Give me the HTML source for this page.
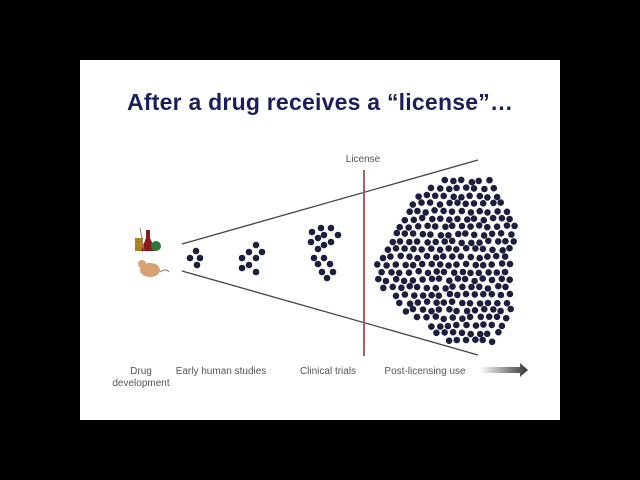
<!DOCTYPE html>
<html><head><style>
body{margin:0;background:#000;width:640px;height:480px;overflow:hidden}
svg{display:block}
text{font-family:"Liberation Sans",sans-serif}
</style></head><body>
<svg id="s" width="640" height="480" xmlns="http://www.w3.org/2000/svg">
<rect width="640" height="480" fill="#000"/>
<rect x="80" y="60" width="480" height="360" fill="#fff"/>
<text x="320" y="110" text-anchor="middle" font-size="23" font-weight="bold" fill="#1a1f5c" textLength="386">After a drug receives a “license”…</text>
<line x1="182" y1="244" x2="478" y2="160" stroke="#444" stroke-width="1.3"/>
<line x1="182" y1="271" x2="478" y2="355" stroke="#444" stroke-width="1.3"/>
<line x1="364" y1="170" x2="364" y2="356" stroke="#a86060" stroke-width="2"/>
<text x="363" y="162" text-anchor="middle" font-size="10" fill="#555">License</text>
<text x="141" y="374" text-anchor="middle" font-size="10" fill="#555">Drug</text>
<text x="141" y="386" text-anchor="middle" font-size="10" fill="#555">development</text>
<text x="221" y="374" text-anchor="middle" font-size="10" fill="#555">Early human studies</text>
<text x="328" y="374" text-anchor="middle" font-size="10" fill="#555">Clinical trials</text>
<text x="425" y="374" text-anchor="middle" font-size="10" fill="#555">Post-licensing use</text>
<defs><linearGradient id="g" x1="0" x2="1"><stop offset="0" stop-color="#fff"/><stop offset="1" stop-color="#333"/></linearGradient></defs>
<polygon points="480,367 520,367 520,363 528,370 520,377 520,373 480,373" fill="url(#g)"/>
<rect x="135" y="238" width="8" height="13" fill="#b08020"/>
<path d="M146 230 L150 230 L150 238 L156 251 L141 251 L146 238Z" fill="#8a1a1a"/>
<circle cx="156" cy="246" r="5" fill="#2a7a3a"/>
<line x1="140" y1="228" x2="144" y2="250" stroke="#888"/>
<ellipse cx="150" cy="270" rx="10" ry="7" fill="#d9a070"/>
<circle cx="142" cy="264" r="4" fill="#d9a070"/>
<path d="M160 272 Q166 268 169 272" stroke="#a07050" fill="none"/>
<g id="d" fill="#1b1e3e"></g>
</svg>
<script>
var g=document.getElementById('d');
function dot(x,y){var c=document.createElementNS('http://www.w3.org/2000/svg','circle');c.setAttribute('cx',x);c.setAttribute('cy',y);c.setAttribute('r',3.3);g.appendChild(c);}
[[196,251],[190,258],[200,258],[197,265],[256,245],[249,252],[262,252],[242,258],[256,258],[249,265],[242,268],[256,272],[312,232],[321,228],[331,228],[324,235],[338,235],[311,242],[318,238],[331,242],[324,245],[318,249],[314,258],[324,258],[318,264],[330,264],[322,272],[333,272],[327,278]].forEach(function(p){dot(p[0],p[1])});
var P=[[445,178],[490,178],[505,200],[518,225],[512,260],[515,300],[505,325],[490,345],[455,345],[420,325],[395,305],[375,280],[378,255],[395,225],[418,195]];
function inP(x,y){var c=false;for(var i=0,j=P.length-1;i<P.length;j=i++){var a=P[i],b=P[j];if((a[1]>y)!=(b[1]>y)&&x<(b[0]-a[0])*(y-a[1])/(b[1]-a[1])+a[0])c=!c;}return c;}
var s=7;function r(){s=(s*9301+49297)%233280;return s/233280;}
for(var y=181;y<346;y+=7.6){var row=Math.round((y-181)/7.6);for(var x=374+(row%2)*4.3;x<520;x+=8.8){var px=x+(r()-0.5)*2.5,py=y+(r()-0.5)*2.5;if(inP(px,py))dot(px.toFixed(1),py.toFixed(1));}}
</script>
</body></html>
